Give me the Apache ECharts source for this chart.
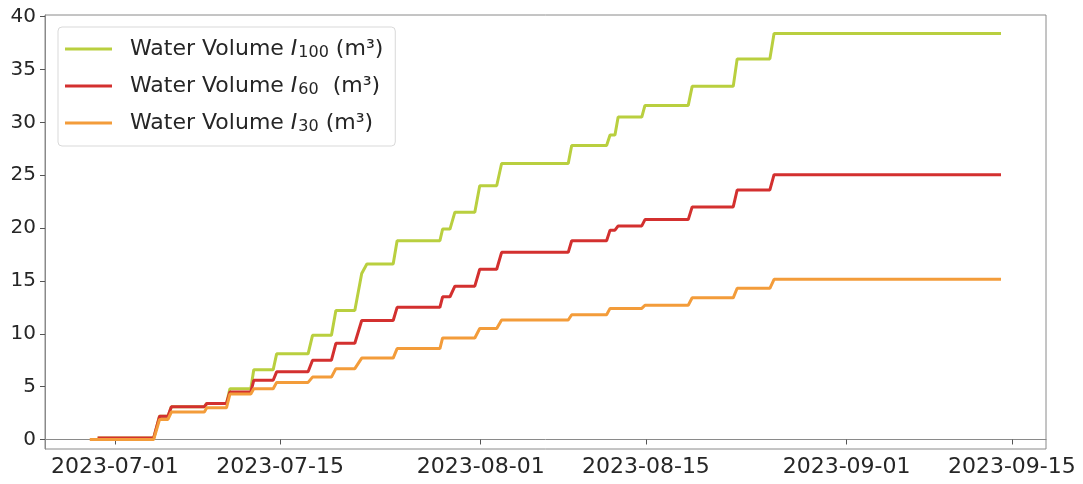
<!DOCTYPE html>
<html>
<head>
<meta charset="utf-8">
<script src="https://cdn.jsdelivr.net/npm/echarts@6/dist/echarts.min.js"></script>
<style>
html,body{margin:0;padding:0;background:#fff;}
#chart{width:1083px;height:484px;}
</style>
</head>
<body>
<div id="chart"></div>
<script>
// ---- data ----
const times = [
  '2023-06-28 21:00','2023-06-29 13:00',
  '2023-07-04 07:00','2023-07-04 19:00',
  '2023-07-05 12:00','2023-07-05 19:00',
  '2023-07-08 14:00','2023-07-08 19:00',
  '2023-07-10 11:00','2023-07-10 18:00',
  '2023-07-12 12:30','2023-07-12 18:30',
  '2023-07-14 10:00','2023-07-14 17:00',
  '2023-07-17 09:00','2023-07-17 18:00',
  '2023-07-19 08:30','2023-07-19 17:30',
  '2023-07-21 08:00','2023-07-21 22:00','2023-07-22 08:30',
  '2023-07-24 14:00','2023-07-24 22:00',
  '2023-07-28 13:00','2023-07-28 18:30',
  '2023-07-29 09:30','2023-07-29 19:30',
  '2023-07-31 12:00','2023-07-31 22:00',
  '2023-08-02 08:30','2023-08-02 18:30',
  '2023-08-08 10:00','2023-08-08 17:00',
  '2023-08-11 16:00','2023-08-11 23:00',
  '2023-08-12 09:00','2023-08-12 15:30',
  '2023-08-14 15:30','2023-08-14 22:00',
  '2023-08-18 14:00','2023-08-18 22:00',
  '2023-08-22 09:30','2023-08-22 17:30',
  '2023-08-25 12:00','2023-08-25 20:30',
  '2023-09-14 02:00'
];
const volumeI100 = [
  null,0.15, 0.15,2.2, 2.2,3.1, 3.1,3.4, 3.4,4.8, 4.8,6.6, 6.6,8.1, 8.1,9.85,
  9.85,12.2, 12.2,15.7,16.6, 16.6,18.8, 18.8,19.9, 19.9,21.5, 21.5,24.0,
  24.0,26.1, 26.1,27.8, 27.8,28.8, 28.8,30.5, 30.5,31.6, 31.6,33.4, 33.4,36.0,
  36.0,38.4, 38.4
];
const volumeI60 = [
  null,0.15, 0.15,2.2, 2.2,3.1, 3.1,3.4, 3.4,4.5, 4.5,5.6, 5.6,6.4, 6.4,7.5,
  7.5,9.1, 9.1,11.25,11.25, 11.25,12.5, 12.5,13.5, 13.5,14.5, 14.5,16.1,
  16.1,17.7, 17.7,18.8, 18.8,19.8, 19.8,20.2, 20.2,20.8, 20.8,22.0, 22.0,23.6,
  23.6,25.05, 25.05
];
const volumeI30 = [
  0.0,0.0, 0.0,1.9, 1.9,2.6, 2.6,3.0, 3.0,4.3, 4.3,4.8, 4.8,5.4, 5.4,5.9,
  5.9,6.7, 6.7,7.7,7.7, 7.7,8.6, 8.6,9.6, 9.6,9.6, 9.6,10.5,
  10.5,11.3, 11.3,11.8, 11.8,12.4, 12.4,12.4, 12.4,12.7, 12.7,13.4, 13.4,14.3,
  14.3,15.15, 15.15
];
const xTickDates = ['2023-07-01','2023-07-15','2023-08-01','2023-08-15','2023-09-01','2023-09-15'];
const yTickValues = [0,5,10,15,20,25,30,35,40];
const seriesNames = ['Water Volume I100 (m³)','Water Volume I60  (m³)','Water Volume I30 (m³)'];
const legendSubs = ['100','60','30'];
const legendTails = [' (m³)','  (m³)',' (m³)'];
const xRange = ['2023-06-25 02:00','2023-09-17 21:30'];
const yRange = [-0.9, 40.15];

// ---- helpers ----
function ts(s){
  const parts = s.split(' ');
  const [y,m,dd] = parts[0].split('-').map(Number);
  let h=0, mi=0;
  if(parts[1]){ const hm = parts[1].split(':').map(Number); h=hm[0]; mi=hm[1]; }
  return new Date(y, m-1, dd, h, mi).getTime();
}
function fmt(v){
  const d = new Date(v);
  const p = n => (n<10?'0':'')+n;
  return d.getFullYear()+'-'+p(d.getMonth()+1)+'-'+p(d.getDate());
}
function pairs(vals){ return times.map((t,i)=>[ts(t), vals[i]]); }

const colors = ['#b9cf3f','#d3302f','#f39c3a'];
const font = 'DejaVu Sans';
const xTicks = xTickDates.map(ts);

const chart = echarts.init(document.getElementById('chart'), null, {renderer:'canvas'});
chart.setOption({
  animation:false,
  backgroundColor:'#fff',
  grid:{left:45, right:37, top:15, bottom:35, show:true, borderColor:'#8a8a8a', borderWidth:1, backgroundColor:'transparent'},
  xAxis:{
    type:'value',
    min: ts(xRange[0]), max: ts(xRange[1]),
    axisLine:{show:true, lineStyle:{color:'#8a8a8a', width:1}},
    axisTick:{show:true, inside:false, length:5, lineStyle:{color:'#555'}, customValues: xTicks},
    axisLabel:{show:true, customValues: xTicks, formatter: v=>fmt(v), fontSize:22, color:'#262626', fontFamily:font, margin:7, hideOverlap:false, showMinLabel:true, showMaxLabel:true},
    splitLine:{show:false}
  },
  yAxis:{
    type:'value',
    min: yRange[0], max: yRange[1],
    axisLine:{show:true, lineStyle:{color:'#8a8a8a', width:1}},
    axisTick:{show:true, inside:false, length:5, lineStyle:{color:'#555'}, customValues: yTickValues},
    axisLabel:{show:true, customValues: yTickValues, fontSize:20, color:'#262626', fontFamily:font, margin:9},
    splitLine:{show:false}
  },
  legend:{
    orient:'vertical', left:58, top:27,
    padding:[8,12,11,7],
    itemGap:11,
    itemWidth:47, itemHeight:3, icon:'rect',
    backgroundColor:'#fff', borderColor:'#d9d9d9', borderWidth:1, borderRadius:4,
    data: seriesNames,
    formatter: function(name){
      const i = seriesNames.indexOf(name);
      return '{t|Water Volume }{it|I}{sub|'+legendSubs[i]+'}{t|'+legendTails[i]+'}';
    },
    textStyle:{
      fontFamily:font, fontSize:22, color:'#262626', padding:[0,0,0,13],
      rich:{
        t:{fontFamily:font, fontSize:22, color:'#262626', lineHeight:24},
        it:{fontFamily:font, fontSize:22, fontStyle:'italic', color:'#262626', lineHeight:24},
        sub:{fontFamily:font, fontSize:16, color:'#262626', lineHeight:16, verticalAlign:'bottom', padding:[10,0,0,1]}
      }
    }
  },
  series:[
    {name:seriesNames[0], type:'line', data:pairs(volumeI100), showSymbol:false, connectNulls:false, lineStyle:{color:colors[0], width:3}, itemStyle:{color:colors[0]}, z:2},
    {name:seriesNames[1], type:'line', data:pairs(volumeI60), showSymbol:false, connectNulls:false, lineStyle:{color:colors[1], width:3}, itemStyle:{color:colors[1]}, z:3},
    {name:seriesNames[2], type:'line', data:pairs(volumeI30), showSymbol:false, connectNulls:false, lineStyle:{color:colors[2], width:3}, itemStyle:{color:colors[2]}, z:4}
  ]
});
</script>
</body>
</html>
